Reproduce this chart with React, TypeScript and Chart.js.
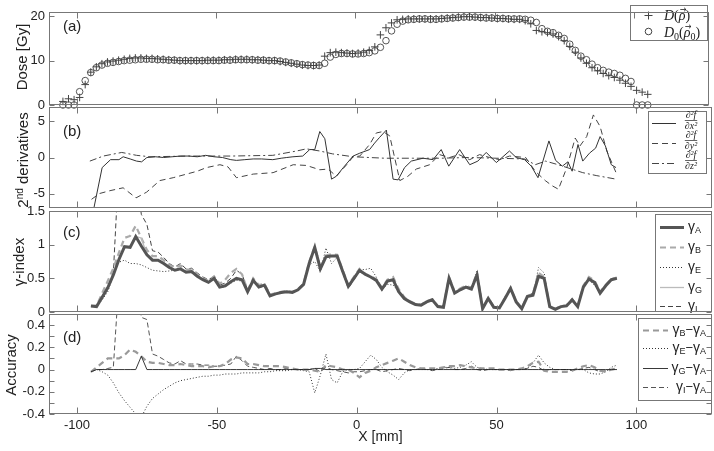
import React, { useEffect, useRef } from 'react';
import { Chart, registerables } from 'chart.js';

Chart.register(...registerables);

// ---------------- data ----------------
const DOSE_X = [-105,-103,-101,-99,-97,-95,-93,-91,-89,-87,-85,-83,-81,-79,-77,-75,-73,-71,-69,-67,-65,-63,-61,-59,-57,-55,-53,-51,-49,-47,-45,-43,-41,-39,-37,-35,-33,-31,-29,-27,-25,-23,-21,-19,-17,-15,-13,-11,-9,-7,-5,-3,-1,1,3,5,7,9,11,13,15,17,19,21,23,25,27,29,31,33,35,37,39,41,43,45,47,49,51,53,55,57,59,61,63,65,67,69,71,73,75,77,79,81,83,85,87,89,91,93,95,97,99,101,103,105];
const DOSE_D = [0.8,1.4,1.2,1.7,4.6,7.4,8.6,9.3,9.7,9.9,
  10.1,10.3,10.5,10.6,10.6,10.5,10.5,10.4,10.3,10.2,
  10.1,10.0,10.0,10.0,10.0,10.0,10.1,10.1,10.1,10.2,
  10.2,10.3,10.3,10.3,10.2,10.2,10.1,10.0,10.0,9.8,
  9.6,9.4,9.2,9.0,8.9,8.9,9.0,11.0,11.8,11.9,
  11.8,11.7,11.6,11.7,11.9,12.3,13.1,15.8,17.4,18.5,
  19.2,19.3,19.4,19.4,19.4,19.4,19.4,19.4,19.5,19.6,
  19.7,19.8,19.9,19.9,19.8,19.7,19.7,19.6,19.5,19.5,
  19.4,19.3,19.3,19.0,18.3,16.8,16.5,16.3,16.0,15.4,
  14.5,13.2,11.9,10.6,9.4,8.4,7.7,7.1,6.6,6.2,
  5.6,4.9,4.2,3.3,2.9,2.4];
const DOSE_D0 = [0,0,0,3.0,5.5,7.3,8.4,9.0,9.4,9.6,
  9.8,10.0,10.1,10.2,10.3,10.3,10.3,10.2,10.2,10.1,
  10.1,10.0,10.0,10.0,10.0,10.0,10.0,10.0,10.0,10.1,
  10.1,10.2,10.2,10.2,10.2,10.1,10.1,10.0,10.0,9.9,
  9.7,9.5,9.3,9.1,9.0,8.9,8.9,9.4,10.8,11.4,
  11.6,11.6,11.5,11.5,11.6,11.8,12.2,13.0,14.5,16.7,
  18.2,18.9,19.2,19.3,19.4,19.4,19.3,19.3,19.4,19.5,
  19.6,19.7,19.8,19.8,19.8,19.7,19.6,19.6,19.5,19.5,
  19.4,19.4,19.4,19.3,19.1,18.6,17.2,16.6,16.3,15.7,
  15.0,13.7,12.3,11.0,10.2,9.2,8.4,7.8,7.4,7.1,
  6.7,6.0,5.3,0,0,0];

const DXX_X = [-95,-91,-88,-85,-83.5,-81,-78.7,-76.9,-75,-72,-69,-66,-63,-60,-57,-54,-51,-48,-45,-43,-40,-37,-34,-30,-27,-25,-22.8,-19.3,-16.8,-15,-13.2,-11.4,-9,-7.3,-4.8,-1.3,1.1,4.6,6.4,8.2,10.6,13,14.8,17.1,19.5,23.7,27.3,30.2,32.9,36.8,40.4,43.3,46.3,49.9,54.6,57,60,62.4,64.8,68.7,71.1,73.5,75.5,77,79.1,80.8,83.2,85.4,87,88.9,91,92.7];
const DXX_Y = [-9,-1.4,-0.3,-0.3,0.1,-0.2,-0.5,-0.6,0,0.1,0.0,0.1,0.2,0.2,0.1,0.3,0.1,0.0,-0.3,-0.4,-0.3,-0.2,-0.2,-0.3,-0.1,0.0,0.1,0.2,1.1,1.1,3.6,2.6,-3.0,-2.6,-1.4,0.2,0.6,1.1,2.0,2.8,3.8,-3.0,-3.1,-1.4,-0.5,-0.1,-0.3,1.1,-1.2,1.1,-1.0,-0.5,0.7,-0.7,0.9,0,-0.3,-1.2,-2.8,2.3,-0.4,-1.2,-0.6,-1.9,1.8,-0.5,0.6,1.3,2.9,1.6,-1.0,-1.4];
const DYY_X = [-94.8,-92,-88.2,-83.5,-78.9,-75.1,-70.4,-65.6,-60.8,-57,-53.7,-48.9,-46,-43,-37,-29.9,-22.7,-18,-13.2,-10.2,-7.3,-3.6,-1.3,1.1,4.6,7,9.4,11.8,15.4,18.3,21.3,26.1,29.6,33.2,36.5,40.4,43.9,47.5,51.1,54.6,60.4,63.8,67.4,69.8,72.1,75.1,78.1,79.8,82.2,84.6,87,89.4,92.7];
const DYY_Y = [-5.8,-5.0,-4.6,-4.2,-5.6,-4.8,-3.2,-2.8,-2.3,-1.9,-1.4,-1.0,-1.3,-2.8,-2.3,-2.1,-1.0,-1.1,-1.7,-1.6,-2.6,-1.0,0.1,0.2,1.8,3.4,3.6,3.0,-3.2,-2.6,-1.6,-1.0,0.4,0,0.4,-0.3,0.4,0,-0.3,0.2,0,-1.9,-3.2,-3.9,-4.4,-1.4,2.7,1.6,2.9,5.9,4.3,0.9,-2.1];
const DZZ_X = [-95.4,-90.6,-84,-78.7,-73.9,-60,-45,-30,-21.5,-18,-13.2,-8.6,-1.2,10,20,30,40,50,60,63.8,67.5,72,80.8,85.6,92.7];
const DZZ_Y = [-0.5,0.2,0.7,0.3,0.1,0.2,0.2,0.3,0.9,1.2,0.9,0.5,0.1,-0.1,-0.1,-0.1,0,-0.1,-0.2,-1.0,-0.5,-1.0,-2.1,-2.5,-3.0];

const GAMMA_X = [-95,-93,-91,-89,-87,-85,-83,-81,-79,-77,-75,-73,-71,-69,-67,-65,-63,-61,-59,-57,-55,-53,-51,-49,-47,-45,-43,-41,-39,-37,-35,-33,-31,-29,-27,-25,-23,-21,-19,-17,-15,-13,-11,-9,-7,-5,-3,-1,1,3,5,7,9,11,13,15,17,19,21,23,25,27,29,31,33,35,37,39,41,43,45,47,49,51,53,55,57,59,61,63,65,67,69,71,73,75,77,79,81,83,85,87,89,91,93];
const GAMMA_A = [0.09,0.08,0.22,0.36,0.55,0.78,0.97,0.96,1.12,0.98,
  0.85,0.77,0.77,0.72,0.66,0.62,0.64,0.59,0.60,0.53,
  0.48,0.44,0.50,0.37,0.39,0.45,0.50,0.48,0.30,0.47,
  0.37,0.40,0.24,0.27,0.29,0.30,0.29,0.33,0.41,0.72,
  0.96,0.64,0.82,0.83,0.83,0.60,0.38,0.50,0.62,0.56,
  0.52,0.47,0.34,0.46,0.48,0.30,0.20,0.15,0.11,0.10,
  0.15,0.18,0.08,0.07,0.50,0.28,0.33,0.37,0.34,0.55,
  0.05,0.20,0.07,0.06,0.20,0.35,0.15,0.05,0.23,0.25,
  0.53,0.50,0.08,0.04,0.08,0.09,0.18,0.08,0.37,0.49,
  0.44,0.28,0.39,0.48,0.50];
const GAMMA_B = [0.09,0.09,0.28,0.46,0.65,0.88,1.10,1.13,1.28,1.10,
  0.92,0.83,0.83,0.77,0.70,0.66,0.69,0.63,0.63,0.56,
  0.50,0.46,0.53,0.42,0.48,0.58,0.64,0.56,0.32,0.50,
  0.40,0.42,0.26,0.28,0.30,0.31,0.30,0.34,0.42,0.74,
  0.97,0.66,0.84,0.86,0.85,0.62,0.40,0.52,0.64,0.57,
  0.53,0.49,0.36,0.48,0.52,0.34,0.22,0.16,0.12,0.11,
  0.16,0.19,0.09,0.08,0.52,0.30,0.35,0.39,0.36,0.58,
  0.06,0.21,0.08,0.07,0.21,0.36,0.16,0.06,0.24,0.27,
  0.58,0.52,0.09,0.05,0.09,0.10,0.19,0.09,0.39,0.52,
  0.47,0.30,0.40,0.49,0.51];
const GAMMA_E = [0.08,0.08,0.18,0.30,0.55,0.74,0.77,0.72,0.72,0.70,
  0.66,0.62,0.61,0.60,0.61,0.62,0.63,0.59,0.58,0.53,
  0.48,0.44,0.48,0.36,0.38,0.43,0.47,0.46,0.29,0.46,
  0.36,0.39,0.23,0.27,0.29,0.30,0.29,0.33,0.41,0.70,
  0.75,0.60,0.95,0.72,0.81,0.58,0.38,0.50,0.63,0.63,
  0.65,0.52,0.34,0.41,0.40,0.30,0.20,0.15,0.11,0.10,
  0.15,0.18,0.08,0.07,0.50,0.28,0.33,0.37,0.34,0.62,
  0.07,0.20,0.07,0.06,0.20,0.35,0.15,0.05,0.23,0.25,
  0.66,0.58,0.10,0.04,0.08,0.09,0.18,0.08,0.37,0.47,
  0.40,0.28,0.39,0.48,0.52];
const GAMMA_G = [0.09,0.08,0.22,0.36,0.55,0.78,0.97,0.96,1.12,1.10,
  0.85,0.77,0.77,0.72,0.66,0.62,0.64,0.59,0.60,0.53,
  0.48,0.44,0.50,0.37,0.39,0.45,0.50,0.48,0.30,0.47,
  0.37,0.40,0.24,0.27,0.29,0.30,0.29,0.33,0.41,0.72,
  0.96,0.64,0.82,0.83,0.83,0.60,0.38,0.50,0.62,0.56,
  0.52,0.47,0.34,0.46,0.48,0.30,0.20,0.15,0.11,0.10,
  0.15,0.18,0.08,0.07,0.50,0.28,0.33,0.37,0.34,0.55,
  0.05,0.20,0.07,0.06,0.20,0.35,0.15,0.05,0.23,0.25,
  0.53,0.50,0.08,0.04,0.08,0.09,0.18,0.08,0.37,0.49,
  0.44,0.28,0.39,0.48,0.50];
const GAMMA_I = [0.09,0.08,0.22,0.37,0.58,2.2,2.6,2.4,2.1,1.45,
  1.30,0.91,0.89,0.81,0.72,0.67,0.72,0.64,0.65,0.58,
  0.52,0.48,0.53,0.40,0.43,0.50,0.62,0.56,0.33,0.49,
  0.38,0.40,0.25,0.27,0.29,0.31,0.29,0.33,0.41,0.72,
  0.97,0.62,0.84,0.83,0.82,0.58,0.35,0.48,0.60,0.55,
  0.52,0.47,0.32,0.45,0.48,0.31,0.20,0.14,0.11,0.11,
  0.15,0.17,0.08,0.08,0.52,0.28,0.33,0.38,0.37,0.55,
  0.04,0.20,0.07,0.06,0.20,0.34,0.15,0.05,0.24,0.28,
  0.55,0.49,0.08,0.04,0.08,0.09,0.17,0.08,0.38,0.51,
  0.44,0.26,0.38,0.48,0.50];

const ACC_BA = [-0.02,0.02,0.06,0.10,0.10,0.10,0.13,0.18,0.16,0.12,
  0.07,0.06,0.06,0.05,0.04,0.04,0.05,0.04,0.03,0.03,
  0.03,0.02,0.03,0.03,0.05,0.09,0.11,0.10,0.05,0.05,
  0.04,0.03,0.03,0.03,0.03,0.02,0.01,0.0,0.0,0.0,
  -0.01,-0.02,0.04,0.03,0.02,0.0,0.0,-0.03,-0.07,-0.03,
  -0.01,0.02,0.04,0.06,0.08,0.10,0.07,0.04,0.02,0.01,
  0.01,0.01,0.01,0.02,0.03,0.03,0.04,0.03,0.02,0.01,
  0.01,0.01,0.01,0.0,0.0,0.0,0.0,0.01,0.03,0.06,
  0.07,-0.01,-0.02,-0.02,-0.02,-0.02,-0.01,0.01,0.03,0.04,
  0.02,-0.01,-0.02,0.0,0.01];
const ACC_EA = [-0.02,0.0,-0.02,-0.05,-0.12,-0.21,-0.28,-0.34,-0.40,-0.43,
  -0.33,-0.26,-0.22,-0.18,-0.15,-0.12,-0.10,-0.09,-0.08,-0.07,
  -0.06,-0.06,-0.05,-0.05,-0.04,-0.04,-0.04,-0.03,-0.03,-0.03,
  -0.03,-0.02,-0.02,-0.01,-0.01,-0.01,0.0,0.0,-0.01,-0.02,
  -0.21,-0.05,0.14,-0.09,-0.12,-0.02,0.0,0.0,0.01,0.07,
  0.13,0.09,0.02,-0.02,-0.05,-0.09,-0.03,0.0,0.0,0.0,
  0.0,0.0,0.01,0.02,0.02,0.01,0.02,0.04,0.07,0.02,
  0.01,0.0,0.0,0.0,0.0,0.0,0.0,0.0,0.01,0.06,
  0.13,0.06,0.02,0.0,0.0,0.0,0.0,0.0,0.0,-0.03,
  -0.04,-0.04,-0.02,0.02,0.04];
const ACC_GA = [-0.02,0.0,0.0,0.0,0.0,0.0,0.0,0.0,0.0,0.12,
  0.0,0.0,0.0,0.0,0.0,0.0,0.0,0.0,0.0,0.0,
  0.0,0.0,0.0,0.0,0.0,0.0,0.0,0.0,0.0,0.0,
  0.0,0.0,0.0,0.0,0.0,0.0,0.0,0.0,0.0,0.0,
  0.01,0.01,0.0,0.0,0.0,0.0,0.0,0.0,0.0,0.0,
  0.0,0.0,0.0,0.0,0.0,0.0,0.0,0.0,0.0,0.0,
  0.0,0.0,0.0,0.0,0.0,0.0,0.0,0.0,0.0,0.0,
  0.0,0.0,0.0,0.0,0.0,0.0,0.0,0.0,0.0,0.0,
  0.0,0.0,0.0,0.0,0.0,0.0,0.0,0.0,0.0,0.0,
  0.0,0.0,0.0,0.0,0.0];
const ACC_IA = [-0.02,0.0,0.0,0.01,0.02,0.8,1.0,0.9,0.9,0.47,
  0.45,0.14,0.12,0.09,0.06,0.05,0.08,0.05,0.05,0.05,
  0.04,0.04,0.03,0.03,0.04,0.05,0.12,0.08,0.03,0.02,
  0.01,0.0,0.01,0.0,0.0,0.01,0.0,0.0,0.0,0.0,
  0.01,-0.02,0.02,0.0,-0.01,-0.02,-0.03,-0.02,-0.02,-0.01,
  0.0,0.0,-0.02,-0.01,0.0,0.01,0.0,-0.01,0.0,0.01,
  0.0,-0.01,0.0,0.01,0.02,0.0,0.0,0.01,0.03,0.0,
  -0.01,0.0,0.0,0.0,0.0,-0.01,0.0,0.0,0.01,0.03,
  0.02,-0.01,0.0,0.0,0.0,0.0,-0.01,0.0,0.01,0.02,
  0.0,-0.02,-0.01,0.0,0.0];

// ---------------- presentation ----------------
const W = 714, H = 451;
const PLOT_LEFT = 49, PLOT_RIGHT = 712;
const X_MIN = -110, X_MAX = 127;
const SANS = "'Liberation Sans', Arial, sans-serif";
const SERIF = "'Liberation Serif', 'DejaVu Serif', serif";
const TXT = '#222';
const FRAME = '#777';

type Sty = { color: string; width: number; dash: number[] };
const ST_XX: Sty = { color: '#333', width: 1, dash: [] };
const ST_YY: Sty = { color: '#444', width: 1, dash: [6, 4] };
const ST_ZZ: Sty = { color: '#444', width: 1, dash: [7, 3, 2, 3] };
const ST_A: Sty = { color: '#555', width: 3, dash: [] };
const ST_B: Sty = { color: '#aaa', width: 2.2, dash: [6, 4] };
const ST_E: Sty = { color: '#333', width: 1, dash: [1, 2] };
const ST_G: Sty = { color: '#bbb', width: 1.3, dash: [] };
const ST_I: Sty = { color: '#444', width: 1, dash: [5, 3] };
const ST_BA: Sty = { color: '#999', width: 2.2, dash: [6, 4] };
const ST_EA: Sty = { color: '#333', width: 1, dash: [1, 2] };
const ST_GA: Sty = { color: '#222', width: 0.9, dash: [] };
const ST_IA: Sty = { color: '#555', width: 1, dash: [5, 3] };

const xy = (xs: number[], ys: number[]) => xs.map((x, i) => ({ x, y: ys[i] }));

type Run = { t: string; font: string; dy?: number; arrow?: boolean };

function runsWidth(ctx: CanvasRenderingContext2D, runs: Run[]) {
  let w = 0;
  for (const r of runs) { ctx.font = r.font; w += ctx.measureText(r.t).width; }
  return w;
}
function drawRuns(ctx: CanvasRenderingContext2D, x: number, y: number, runs: Run[]) {
  let cx = x;
  for (const r of runs) {
    ctx.font = r.font;
    const w = ctx.measureText(r.t).width;
    ctx.fillText(r.t, cx, y + (r.dy || 0));
    if (r.arrow) {
      const ay = y - 10.5;
      ctx.save();
      ctx.lineWidth = 0.8; ctx.strokeStyle = TXT; ctx.setLineDash([]);
      ctx.beginPath();
      ctx.moveTo(cx + 1.5, ay); ctx.lineTo(cx + w + 0.5, ay);
      ctx.moveTo(cx + w - 1.5, ay - 1.8); ctx.lineTo(cx + w + 0.5, ay); ctx.lineTo(cx + w - 1.5, ay + 1.8);
      ctx.stroke();
      ctx.restore();
    }
    cx += w;
  }
  return cx;
}
function vText(ctx: CanvasRenderingContext2D, cx: number, cy: number, runs: Run[]) {
  ctx.save();
  ctx.translate(cx, cy); ctx.rotate(-Math.PI / 2);
  ctx.textBaseline = 'middle'; ctx.textAlign = 'left'; ctx.fillStyle = TXT;
  const w = runsWidth(ctx, runs);
  drawRuns(ctx, -w / 2, 0, runs);
  ctx.restore();
}
function legendBox(ctx: CanvasRenderingContext2D, x1: number, y1: number, x2: number, y2: number) {
  ctx.setLineDash([]);
  ctx.fillStyle = '#fff'; ctx.fillRect(x1, y1, x2 - x1, y2 - y1);
  ctx.strokeStyle = FRAME; ctx.lineWidth = 1;
  ctx.strokeRect(x1 + 0.5, y1 + 0.5, x2 - x1 - 1, y2 - y1 - 1);
}
function sample(ctx: CanvasRenderingContext2D, x1: number, x2: number, y: number, s: Sty) {
  ctx.save();
  ctx.strokeStyle = s.color; ctx.lineWidth = s.width; ctx.setLineDash(s.dash);
  ctx.beginPath(); ctx.moveTo(x1, y); ctx.lineTo(x2, y); ctx.stroke();
  ctx.restore();
}
function frac(ctx: CanvasRenderingContext2D, cx: number, cy: number, num: string, den: string) {
  ctx.save();
  ctx.fillStyle = TXT; ctx.strokeStyle = TXT;
  ctx.font = `italic 10px ${SERIF}`; ctx.textAlign = 'center'; ctx.textBaseline = 'alphabetic';
  ctx.fillText(num, cx, cy - 2);
  ctx.fillText(den, cx, cy + 9);
  const w = Math.max(ctx.measureText(num).width, ctx.measureText(den).width);
  ctx.lineWidth = 0.7; ctx.setLineDash([]);
  ctx.beginPath(); ctx.moveTo(cx - w / 2, cy + 0.5); ctx.lineTo(cx + w / 2, cy + 0.5); ctx.stroke();
  ctx.restore();
}
const gammaRuns = (sub: string): Run[] => [
  { t: 'γ', font: `14px ${SANS}` },
  { t: sub, font: `9px ${SANS}`, dy: 4 },
];

function legendA(ctx: CanvasRenderingContext2D) {
  legendBox(ctx, 630, 5, 708, 41);
  ctx.strokeStyle = '#444'; ctx.lineWidth = 1; ctx.setLineDash([]);
  ctx.beginPath();
  ctx.moveTo(644.5, 15.5); ctx.lineTo(652.5, 15.5);
  ctx.moveTo(648.5, 11.5); ctx.lineTo(648.5, 19.5);
  ctx.stroke();
  ctx.beginPath(); ctx.arc(648.5, 31.5, 3.3, 0, Math.PI * 2); ctx.stroke();
  ctx.fillStyle = TXT; ctx.textBaseline = 'alphabetic'; ctx.textAlign = 'left';
  const IT = `italic 14px ${SERIF}`, RM = `14px ${SERIF}`, SB = `10px ${SERIF}`;
  drawRuns(ctx, 664, 20, [{ t: 'D', font: IT }, { t: '(', font: RM }, { t: 'ρ', font: IT, arrow: true }, { t: ')', font: RM }]);
  drawRuns(ctx, 664, 37, [{ t: 'D', font: IT }, { t: '0', font: SB, dy: 3 }, { t: '(', font: RM }, { t: 'ρ', font: IT, arrow: true }, { t: '0', font: SB, dy: 3 }, { t: ')', font: RM }]);
}
function legendB(ctx: CanvasRenderingContext2D) {
  legendBox(ctx, 648, 111, 707, 174);
  const ys = [123, 143, 163];
  const st = [ST_XX, ST_YY, ST_ZZ];
  const dens = ['∂x²', '∂y²', '∂z²'];
  ys.forEach((y, i) => {
    sample(ctx, 652, 676, y + 0.5, st[i]);
    frac(ctx, 691, y - 3, '∂²f', dens[i]);
  });
}
function legendC(ctx: CanvasRenderingContext2D) {
  legendBox(ctx, 655, 214, 712, 312);
  const ys = [227, 247, 267, 287, 306];
  const st = [ST_A, ST_B, ST_E, ST_G, ST_I];
  const subs = ['A', 'B', 'E', 'G', 'I'];
  ctx.fillStyle = TXT; ctx.textBaseline = 'middle'; ctx.textAlign = 'left';
  ys.forEach((y, i) => {
    sample(ctx, 660, 684, y + 0.5, st[i]);
    ctx.fillStyle = TXT;
    drawRuns(ctx, 688, y, gammaRuns(subs[i]));
  });
}
function legendD(ctx: CanvasRenderingContext2D) {
  legendBox(ctx, 638, 318, 712, 401);
  const ys = [330, 348, 368, 387];
  const st = [ST_BA, ST_EA, ST_GA, ST_IA];
  const subs = ['B', 'E', 'G', 'I'];
  ctx.textBaseline = 'middle'; ctx.textAlign = 'left';
  ys.forEach((y, i) => {
    sample(ctx, 643, 668, y + 0.5, st[i]);
    const runs: Run[] = [...gammaRuns(subs[i]), { t: '−', font: `13px ${SANS}` }, ...gammaRuns('A')];
    const w = runsWidth(ctx, runs);
    ctx.fillStyle = TXT;
    drawRuns(ctx, 706 - w, y, runs);
  });
}

interface Panel {
  key: string; top: number; bottom: number; ymin: number; ymax: number; ystep: number;
  showX: boolean; label: string; labelY: number; datasets: any[];
  title: (ctx: CanvasRenderingContext2D) => void;
  legend: (ctx: CanvasRenderingContext2D) => void;
  yLabel?: (v: number) => string;
}

const lineDs = (label: string, data: any[], s: Sty) => ({
  label, data, borderColor: s.color, borderWidth: s.width, borderDash: s.dash,
  pointRadius: 0, tension: 0, fill: false, backgroundColor: 'transparent',
});

const PANELS: Panel[] = [
  {
    key: 'a', top: 5, bottom: 105, ymin: 0, ymax: 21, ystep: 10, showX: false, label: '(a)', labelY: 27,
    datasets: [
      { label: 'D', data: xy(DOSE_X, DOSE_D), showLine: false, pointStyle: 'cross', pointRadius: 3.8, pointBorderWidth: 1, borderColor: '#444', backgroundColor: 'transparent', clip: false },
      { label: 'D0', data: xy(DOSE_X, DOSE_D0), showLine: false, pointStyle: 'circle', pointRadius: 3.3, pointBorderWidth: 0.9, borderColor: '#444', backgroundColor: 'rgba(0,0,0,0)', clip: false },
    ],
    title: (ctx) => vText(ctx, 23, 57, [{ t: 'Dose [Gy]', font: `15px ${SANS}` }]),
    legend: legendA,
  },
  {
    key: 'b', top: 107, bottom: 208, ymin: -7, ymax: 7, ystep: 5, showX: false, label: '(b)', labelY: 132,
    datasets: [
      lineDs('xx', xy(DXX_X, DXX_Y), ST_XX),
      lineDs('yy', xy(DYY_X, DYY_Y), ST_YY),
      lineDs('zz', xy(DZZ_X, DZZ_Y), ST_ZZ),
    ],
    title: (ctx) => vText(ctx, 24, 160, [
      { t: '2', font: `15px ${SANS}` }, { t: 'nd', font: `10px ${SANS}`, dy: -4 }, { t: ' derivatives', font: `15px ${SANS}` },
    ]),
    legend: legendB,
  },
  {
    key: 'c', top: 211, bottom: 312, ymin: 0, ymax: 1.5, ystep: 0.5, showX: false, label: '(c)', labelY: 233,
    datasets: [
      lineDs('A', xy(GAMMA_X, GAMMA_A), ST_A),
      lineDs('G', xy(GAMMA_X, GAMMA_G), ST_G),
      lineDs('B', xy(GAMMA_X, GAMMA_B), ST_B),
      lineDs('E', xy(GAMMA_X, GAMMA_E), ST_E),
      lineDs('I', xy(GAMMA_X, GAMMA_I), ST_I),
    ],
    title: (ctx) => vText(ctx, 20, 262, [{ t: 'γ-index', font: `15px ${SANS}` }]),
    legend: legendC,
    yLabel: (v) => String(Math.round(v * 10) / 10),
  },
  {
    key: 'd', top: 314, bottom: 414, ymin: -0.4, ymax: 0.5, ystep: 0.1, showX: true, label: '(d)', labelY: 338,
    datasets: [
      lineDs('GA', xy(GAMMA_X, ACC_GA), ST_GA),
      lineDs('BA', xy(GAMMA_X, ACC_BA), ST_BA),
      lineDs('EA', xy(GAMMA_X, ACC_EA), ST_EA),
      lineDs('IA', xy(GAMMA_X, ACC_IA), ST_IA),
    ],
    title: (ctx) => vText(ctx, 12, 365, [{ t: 'Accuracy', font: `15px ${SANS}` }]),
    legend: legendD,
    yLabel: (v) => {
      const k = Math.round(v * 10);
      if (k % 2 !== 0 || k > 4) return '';
      return k === 0 ? '0' : String(k / 10);
    },
  },
];

function framePlugin(p: Panel) {
  return {
    id: 'frame_' + p.key,
    afterDraw(chart: any) {
      const ctx: CanvasRenderingContext2D = chart.ctx;
      const a = chart.chartArea;
      const xs = chart.scales.x, ys = chart.scales.y;
      ctx.save();
      p.legend(ctx);
      ctx.setLineDash([]);
      ctx.strokeStyle = FRAME; ctx.lineWidth = 1;
      const L = Math.round(a.left) + 0.5, R = Math.round(a.right) - 0.5;
      const T = Math.round(a.top) + 0.5, B = Math.round(a.bottom) - 0.5;
      ctx.strokeRect(L, T, R - L, B - T);
      ctx.beginPath();
      for (const t of xs.ticks) {
        const px = Math.round(xs.getPixelForValue(t.value)) + 0.5;
        ctx.moveTo(px, B); ctx.lineTo(px, B - 6);
        ctx.moveTo(px, T); ctx.lineTo(px, T + 6);
      }
      for (const t of ys.ticks) {
        const py = Math.round(ys.getPixelForValue(t.value)) + 0.5;
        ctx.moveTo(L, py); ctx.lineTo(L + 5, py);
        ctx.moveTo(R, py); ctx.lineTo(R - 5, py);
      }
      ctx.stroke();
      ctx.fillStyle = TXT; ctx.font = `15px ${SANS}`; ctx.textBaseline = 'middle'; ctx.textAlign = 'left';
      ctx.fillText(p.label, 63, p.labelY);
      p.title(ctx);
      ctx.restore();
    },
  };
}

function buildConfig(p: Panel): any {
  const tickFont = { family: SANS, size: 13 };
  const xAxis: any = {
    type: 'linear', min: X_MIN, max: X_MAX, display: p.showX,
    grid: { display: false, drawTicks: false }, border: { display: false },
    ticks: { stepSize: 50, includeBounds: false, padding: 4, color: TXT, font: tickFont, maxRotation: 0, autoSkip: false },
    title: { display: p.showX, text: 'X [mm]', color: TXT, font: { family: SANS, size: 14 }, padding: { top: 0, bottom: 5 } },
  };
  if (p.showX) xAxis.afterFit = (s: any) => { s.height = H - p.bottom; };
  const yTicks: any = { stepSize: p.ystep, includeBounds: false, padding: 4, color: TXT, font: tickFont, autoSkip: false };
  if (p.yLabel) yTicks.callback = (v: number) => p.yLabel!(v);
  return {
    type: 'line',
    data: { datasets: p.datasets },
    options: {
      animation: false, responsive: false, maintainAspectRatio: false, events: [],
      layout: { padding: { left: 0, right: W - PLOT_RIGHT, top: p.top, bottom: p.showX ? 0 : H - p.bottom } },
      plugins: { legend: { display: false }, tooltip: { enabled: false }, title: { display: false } },
      scales: {
        x: xAxis,
        y: {
          type: 'linear', min: p.ymin, max: p.ymax,
          grid: { display: false, drawTicks: false }, border: { display: false },
          ticks: yTicks,
          afterFit: (s: any) => { s.width = PLOT_LEFT; },
        },
      },
    },
    plugins: [framePlugin(p)],
  };
}

export default function App() {
  const refs = useRef<(HTMLCanvasElement | null)[]>([]);
  useEffect(() => {
    const charts = PANELS.map((p, i) => new Chart(refs.current[i] as HTMLCanvasElement, buildConfig(p)));
    return () => charts.forEach((c) => c.destroy());
  }, []);
  return (
    <div style={{ position: 'absolute', left: 0, top: 0, width: W, height: H, background: '#fff', overflow: 'hidden' }}>
      {PANELS.map((p, i) => (
        <canvas
          key={p.key}
          ref={(el) => { refs.current[i] = el; }}
          width={W}
          height={H}
          style={{ position: 'absolute', left: 0, top: 0, width: W, height: H }}
        />
      ))}
    </div>
  );
}
